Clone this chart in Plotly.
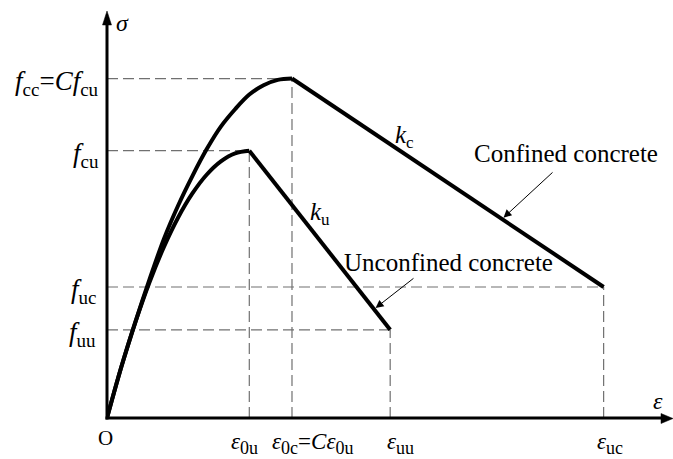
import plotly.graph_objects as go

# Characteristic points of the two stress-strain curves (normalised units)
eps_0u = 1.0    # peak strain, unconfined
eps_0c = 1.3    # peak strain, confined (= C * eps_0u)
eps_uu = 1.99   # ultimate strain, unconfined
eps_uc = 3.49   # ultimate strain, confined
f_cu = 1.0      # peak stress, unconfined
f_cc = 1.27     # peak stress, confined (= C * f_cu)
f_uu = 0.33     # ultimate stress, unconfined
f_uc = 0.49     # ultimate stress, confined

# Ascending branches
asc_u_eps = [0.0, 0.1, 0.2, 0.3, 0.4, 0.5, 0.6, 0.7, 0.8, 0.9, 1.0]
asc_u_sig = [0.0, 0.19, 0.36, 0.51, 0.64, 0.75, 0.84, 0.91, 0.96, 0.99, 1.0]
asc_c_eps = [0.0, 0.1, 0.2, 0.3, 0.4, 0.5, 0.6, 0.7, 0.8, 0.9, 1.0, 1.1, 1.2, 1.3]
asc_c_sig = [0.0, 0.19, 0.36, 0.52, 0.67, 0.795, 0.905, 1.005, 1.09, 1.155, 1.21, 1.245, 1.265, 1.27]

# Plot-area geometry in pixels
W, H = 673, 459
ML, MB = 107, 41
PW, PH = W - ML, H - MB
SX = 142.3   # px per strain unit
SY = 267.3   # px per stress unit
XMAX = PW / SX
YMAX = PH / SY

FONT = "Liberation Serif"
BLACK = "#000000"
DASH_COL = "#707070"


def px(x, y):
    """Pixel position -> paper coordinates."""
    return (x - ML) / PW, (H - MB - y) / PH


def sub(s, size):
    return f'<sub><span style="font-size:{size}px">{s}</span></sub>'


fig = go.Figure()

# Dashed reference lines
dash = dict(color=DASH_COL, width=1.2, dash="11px,5px")
for (xe, ys) in [(eps_0c, f_cc), (eps_0u, f_cu), (eps_uc, f_uc), (eps_uu, f_uu)]:
    fig.add_trace(go.Scatter(x=[0, xe], y=[ys, ys], mode="lines", line=dash,
                             hoverinfo="skip", showlegend=False))
    fig.add_trace(go.Scatter(x=[xe, xe], y=[0, ys], mode="lines", line=dash,
                             hoverinfo="skip", showlegend=False))

# Stress-strain curves: smooth ascending branch, straight softening branch
smooth = dict(color=BLACK, width=4, shape="spline", smoothing=1.0)
straight = dict(color=BLACK, width=4)
fig.add_trace(go.Scatter(x=asc_u_eps, y=asc_u_sig, mode="lines", line=smooth,
                         showlegend=False, name="Unconfined concrete"))
fig.add_trace(go.Scatter(x=[eps_0u, eps_uu], y=[f_cu, f_uu], mode="lines", line=straight,
                         showlegend=False, name="Unconfined concrete"))
fig.add_trace(go.Scatter(x=asc_c_eps, y=asc_c_sig, mode="lines", line=smooth,
                         showlegend=False, name="Confined concrete"))
fig.add_trace(go.Scatter(x=[eps_0c, eps_uc], y=[f_cc, f_uc], mode="lines", line=straight,
                         showlegend=False, name="Confined concrete"))

# Axes with arrowheads
shapes = []
x0, y0 = px(107, 418)
xt, yt = px(107, 24)
shapes.append(dict(type="line", xref="paper", yref="paper", x0=x0, y0=px(107, 419.5)[1],
                   x1=xt, y1=yt, line=dict(color=BLACK, width=3)))
xr, _ = px(664, 418)
shapes.append(dict(type="line", xref="paper", yref="paper", x0=px(105.5, 418)[0], y0=y0,
                   x1=xr, y1=y0, line=dict(color=BLACK, width=3)))


def tri(p1, p2, p3):
    a, b, c = px(*p1), px(*p2), px(*p3)
    return f"M{a[0]},{a[1]} L{b[0]},{b[1]} L{c[0]},{c[1]} Z"


shapes.append(dict(type="path", xref="paper", yref="paper",
                   path=tri((107, 11), (102.5, 25), (111.5, 25)),
                   fillcolor=BLACK, line=dict(color=BLACK, width=0.5)))
shapes.append(dict(type="path", xref="paper", yref="paper",
                   path=tri((673, 418.5), (661, 413.5), (661, 423.5)),
                   fillcolor=BLACK, line=dict(color=BLACK, width=0.5)))

ann = []


def label(text, x, y, xref, yref, size, xanchor="center", yanchor="middle", xshift=0, yshift=0):
    ann.append(dict(text=text, x=x, y=y, xref=xref, yref=yref, showarrow=False,
                    xanchor=xanchor, yanchor=yanchor, xshift=xshift, yshift=yshift,
                    font=dict(family=FONT, size=size, color=BLACK)))


# Axis titles and origin
label("<i>σ</i>", *px(122, 23), "paper", "paper", 24)
label("<i>ε</i>", *px(658, 401), "paper", "paper", 24)
label("O", *px(105, 438), "paper", "paper", 21)

# Stress labels on the left
label("<i>f</i>" + sub("cc", 19) + "=<i>Cf</i>" + sub("cu", 19), 0, f_cc, "paper", "y", 27,
      xanchor="right", xshift=-6, yshift=-4)
label("<i>f</i>" + sub("cu", 19), 0, f_cu, "paper", "y", 27, xanchor="right", xshift=-6, yshift=-4)
label("<i>f</i>" + sub("uc", 19), 0, f_uc, "paper", "y", 27, xanchor="right", xshift=-9, yshift=-4)
label("<i>f</i>" + sub("uu", 19), 0, f_uu, "paper", "y", 27, xanchor="right", xshift=-9, yshift=-4)

# Strain labels below the axis
label("<i>ε</i>" + sub("0u", 18), eps_0u, 0, "x", "paper", 23, yanchor="top", xshift=-5, yshift=-9)
label("<i>ε</i>" + sub("0c", 18) + "=<i>Cε</i>" + sub("0u", 18), eps_0c, 0, "x", "paper", 23,
      xanchor="left", yanchor="top", xshift=-22, yshift=-9)
label("<i>ε</i>" + sub("uu", 18), eps_uu, 0, "x", "paper", 23, yanchor="top", xshift=10, yshift=-9)
label("<i>ε</i>" + sub("uc", 18), eps_uc, 0, "x", "paper", 23, yanchor="top", xshift=6, yshift=-9)

# Slope labels next to the softening branches
t = 0.35
label("<i>k</i>" + sub("c", 17), eps_0c + t * (eps_uc - eps_0c), f_cc + t * (f_uc - f_cc),
      "x", "y", 25, xshift=3, yshift=15)
label("<i>k</i>" + sub("u", 17), eps_0u + t * (eps_uu - eps_0u), f_cu + t * (f_uu - f_cu),
      "x", "y", 25, xshift=21, yshift=0)

# Curve names with pointer arrows
label("Confined concrete", *px(566, 153), "paper", "paper", 25)
label("Unconfined concrete", *px(448, 262), "paper", "paper", 25)

for tc, (e0, s0, e1, s1), (axp, ayp) in [
    (0.674, (eps_0c, f_cc, eps_uc, f_uc), (52, -48)),
    (0.885, (eps_0u, f_cu, eps_uu, f_uu), (41, -32)),
]:
    ann.append(dict(text="", x=e0 + tc * (e1 - e0), y=s0 + tc * (s1 - s0),
                    xref="x", yref="y", ax=axp, ay=ayp, showarrow=True,
                    arrowhead=2, arrowsize=1.6, arrowwidth=1, arrowcolor=BLACK,
                    standoff=2))

fig.update_layout(
    width=W, height=H,
    margin=dict(l=ML, r=0, t=0, b=MB, pad=0),
    paper_bgcolor="white", plot_bgcolor="white",
    xaxis=dict(range=[0, XMAX], visible=False, fixedrange=True),
    yaxis=dict(range=[0, YMAX], visible=False, fixedrange=True),
    shapes=shapes, annotations=ann, showlegend=False,
)

fig.write_html("out.html")
